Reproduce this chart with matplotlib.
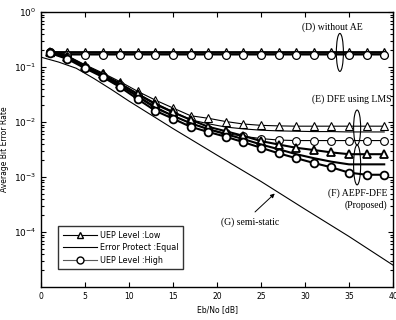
import matplotlib
matplotlib.use("Agg")
import matplotlib.pyplot as plt
from matplotlib.patches import Ellipse
from matplotlib.ticker import LogLocator, NullFormatter

# ---- data ----
ebno = [1, 3, 5, 7, 9, 11, 13, 15, 17, 19, 21, 23, 25, 27, 29, 31, 33, 35, 37, 39]

d_low = [0.19, 0.19, 0.19, 0.19, 0.19, 0.19, 0.19, 0.19, 0.19, 0.19,
         0.19, 0.19, 0.19, 0.19, 0.19, 0.19, 0.19, 0.19, 0.19, 0.19]
d_eq = [0.19, 0.18, 0.18, 0.18, 0.18, 0.18, 0.18, 0.18, 0.18, 0.18,
        0.18, 0.18, 0.18, 0.18, 0.18, 0.18, 0.18, 0.18, 0.18, 0.18]
d_high = [0.185, 0.168, 0.168, 0.168, 0.168, 0.168, 0.168, 0.168, 0.168, 0.168,
          0.168, 0.168, 0.168, 0.168, 0.168, 0.168, 0.168, 0.168, 0.168, 0.168]

e_low = [0.19, 0.16, 0.11, 0.078, 0.054, 0.036, 0.025, 0.018, 0.013, 0.0117,
         0.0102, 0.0092, 0.0087, 0.0085, 0.0084, 0.0084, 0.0084, 0.0084, 0.0084, 0.0084]
e_eq = [0.19, 0.155, 0.105, 0.074, 0.05, 0.033, 0.022, 0.0155, 0.011, 0.0093,
        0.0081, 0.0075, 0.0071, 0.0069, 0.0068, 0.0067, 0.0067, 0.0066, 0.0066, 0.0066]
e_high = [0.185, 0.15, 0.1, 0.07, 0.047, 0.03, 0.019, 0.013, 0.0095, 0.0075,
          0.0062, 0.0055, 0.005, 0.0047, 0.0046, 0.0046, 0.0046, 0.0046, 0.0046, 0.0046]

f_low = [0.19, 0.155, 0.105, 0.074, 0.05, 0.032, 0.021, 0.015, 0.011, 0.0082,
         0.0068, 0.0056, 0.0045, 0.0039, 0.0034, 0.0031, 0.0028, 0.0026, 0.0026, 0.0026]
f_eq = [0.19, 0.15, 0.1, 0.07, 0.046, 0.029, 0.018, 0.013, 0.0095, 0.0074,
        0.006, 0.0049, 0.0039, 0.0032, 0.0026, 0.0022, 0.0019, 0.0017, 0.0017, 0.0017]
f_high = [0.18, 0.14, 0.095, 0.066, 0.043, 0.026, 0.016, 0.0115, 0.0082, 0.0066,
          0.0054, 0.0043, 0.0034, 0.0027, 0.0022, 0.0018, 0.0015, 0.0012, 0.0011, 0.0011]

g_x = [0, 2, 4, 6, 8, 10, 15, 20, 25, 30, 35, 40]
g_y = [0.151, 0.123, 0.095, 0.062, 0.039, 0.024, 0.0076, 0.0025, 0.00083, 0.00026, 8.3e-5, 2.5e-5]

legend_labels = ["UEP Level :Low", "Error Protect :Equal", "UEP Level :High"]
x_ticks = [0, 5, 10, 15, 20, 25, 30, 35, 40]

# ---- figure ----
fig = plt.figure(figsize=(3.96, 3.2), dpi=100)
ax = fig.add_axes([0.1035, 0.103, 0.889, 0.8595])

serif = "Liberation Serif"
sans = "DejaVu Sans"

def series(y, marker, lw, mew, label=None):
    ax.plot(ebno, y, color="black", lw=lw, marker=marker, ms=5.6,
            mfc="white", mec="black", mew=mew, label=label)

# D: without AE
series(d_low, "^", 1.3, 0.9)
series(d_eq, None, 1.3, 0.9)
series(d_high, "o", 1.3, 0.9)
# E: DFE using LMS
series(e_low, "^", 0.8, 0.8)
series(e_eq, None, 0.8, 0.8)
series(e_high, "o", 0.8, 0.8)
# F: AEPF-DFE
series(f_low, "^", 1.5, 1.3)
series(f_eq, None, 1.5, 1.3)
series(f_high, "o", 1.5, 1.3)
# G: semi-static
ax.plot(g_x, g_y, color="black", lw=0.8)

ax.set_yscale("log")
ax.set_xlim(0, 40)
ax.set_ylim(1e-5, 1)
ax.set_xticks(x_ticks)
ax.yaxis.set_minor_locator(LogLocator(base=10, subs=range(2, 10), numticks=20))
ax.yaxis.set_minor_formatter(NullFormatter())
ax.set_yticks([1e-4, 1e-3, 1e-2, 1e-1, 1e0])
ax.tick_params(axis="both", which="both", direction="in", top=True, right=True,
               width=0.8)
ax.tick_params(axis="x", labelsize=5.5)
ax.tick_params(axis="y", labelsize=6.5)
ax.tick_params(which="major", length=3.5)
ax.tick_params(which="minor", length=2)
for s in ax.spines.values():
    s.set_linewidth(1.0)

ax.set_xlabel("Eb/No [dB]", fontsize=5.5, labelpad=3)
ax.set_ylabel("Average Bit Error Rate", fontsize=5.5, labelpad=3)

# annotations
ax.text(0.827, 0.945, "(D) without AE", transform=ax.transAxes, fontsize=7,
        family=serif, ha="center", va="center")
ax.add_patch(Ellipse((0.849, 0.853), 0.02, 0.138, transform=ax.transAxes,
                     fill=False, lw=0.8, ec="black"))
ax.text(0.995, 0.683, "(E) DFE using LMS", transform=ax.transAxes, fontsize=7,
        family=serif, ha="right", va="center")
ax.add_patch(Ellipse((0.898, 0.58), 0.02, 0.127, transform=ax.transAxes,
                     fill=False, lw=0.8, ec="black"))
ax.add_patch(Ellipse((0.898, 0.444), 0.02, 0.145, transform=ax.transAxes,
                     fill=False, lw=0.8, ec="black"))
ax.text(0.983, 0.342, "(F) AEPF-DFE", transform=ax.transAxes, fontsize=7,
        family=serif, ha="right", va="center")
ax.text(0.983, 0.297, "(Proposed)", transform=ax.transAxes, fontsize=7,
        family=serif, ha="right", va="center")
ax.text(0.594, 0.234, "(G) semi-static", transform=ax.transAxes, fontsize=7,
        family=serif, ha="center", va="center")
ax.annotate("", xy=(0.664, 0.34), xycoords="axes fraction",
            xytext=(0.608, 0.273), textcoords="axes fraction",
            arrowprops=dict(arrowstyle="-|>", color="black", lw=0.7,
                            mutation_scale=6, shrinkA=0, shrinkB=0))

# legend
h1, = ax.plot([], [], color="black", lw=0.8, marker="^", ms=5, mfc="white", mec="black")
h2, = ax.plot([], [], color="black", lw=0.8)
h3, = ax.plot([], [], color="0.35", lw=0.8, marker="o", ms=5, mfc="white", mec="black")
leg = ax.legend([h1, h2, h3], legend_labels, loc="lower left",
                bbox_to_anchor=(0.038, 0.05), frameon=True,
                fancybox=False, edgecolor="black", handlelength=4.2,
                borderpad=0.55, labelspacing=0.45, handletextpad=0.4,
                prop={"family": sans, "size": 5.8})
leg.get_frame().set_linewidth(1.0)

fig.savefig("out.png", dpi=100)
